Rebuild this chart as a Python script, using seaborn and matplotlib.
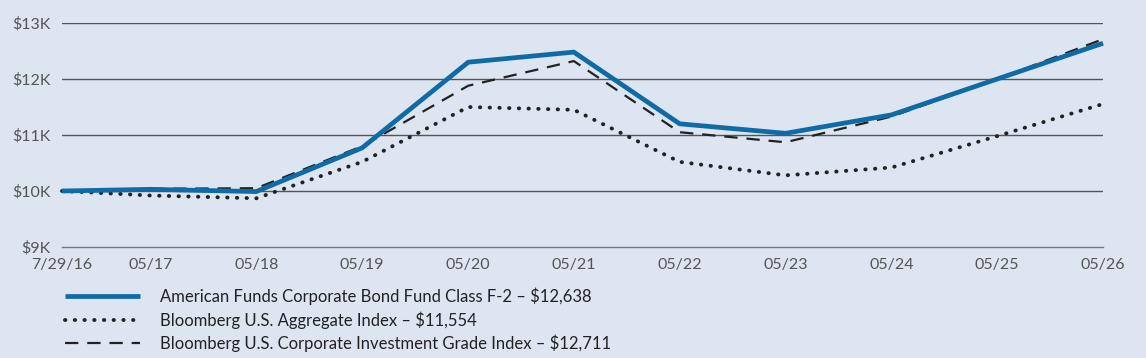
import numpy as np
import pandas as pd
import matplotlib.pyplot as plt
import seaborn as sns
from matplotlib.lines import Line2D

dates = ["2016-07-29", "2017-05-31", "2018-05-31", "2019-05-31", "2020-05-31", "2021-05-31",
         "2022-05-31", "2023-05-31", "2024-05-31", "2025-05-31", "2026-05-31"]
tick_labels = ["7/29/16", "05/17", "05/18", "05/19", "05/20", "05/21",
               "05/22", "05/23", "05/24", "05/25", "05/26"]

fund = [10000, 10030, 9990, 10770, 12300, 12480, 11200, 11030, 11360, 12000, 12638]
aggregate = [10000, 9920, 9870, 10520, 11500, 11450, 10520, 10280, 10420, 10980, 11554]
corporate = [10000, 10040, 10050, 10800, 11880, 12320, 11050, 10870, 11330, 12000, 12711]

names = ["American Funds Corporate Bond Fund Class F-2 \u2013 $12,638",
         "Bloomberg U.S. Aggregate Index \u2013 $11,554",
         "Bloomberg U.S. Corporate Investment Grade Index \u2013 $12,711"]

# convert dates to fractional years so the first short period is spaced right
dt = pd.to_datetime(dates)
xyear = dt.year + (dt.dayofyear - 1) / 365.25

df = pd.DataFrame({
    "x": np.tile(xyear, 3),
    "value": fund + aggregate + corporate,
    "series": np.repeat(names, len(dates)),
})

bg = "#dde5f0"
sns.set_style("white")
plt.rcParams["font.family"] = ["Lato", "DejaVu Sans"]

fig = plt.figure(figsize=(11.46, 3.58), dpi=100, facecolor=bg)
ax = fig.add_axes([0.0541, 0.31, 0.9084, 0.6258])
ax.set_facecolor(bg)

# draw order: dashed, dotted, then fund on top
styles = {
    names[2]: dict(color="#222222", lw=1.6, dashes=(6, 4)),
    names[1]: dict(color="#222222", lw=2.8, dashes=(0.1, 2.4)),
    names[0]: dict(color="#0f6aa6", lw=3.4, dashes=()),
}
for name in [names[2], names[1], names[0]]:
    sub = df[df["series"] == name]
    st = styles[name]
    sns.lineplot(data=sub, x="x", y="value", ax=ax, color=st["color"], lw=st["lw"],
                 legend=False, clip_on=False, solid_capstyle="butt")
    line = ax.lines[-1]
    if st["dashes"]:
        line.set_dashes(st["dashes"])
        if name == names[1]:
            line.set_dash_capstyle("round")
        else:
            line.set_dash_capstyle("butt")

ax.set_xlim(xyear[0], xyear[-1])
ax.set_ylim(9000, 13000)
ax.set_yticks([9000, 10000, 11000, 12000, 13000])
ax.set_yticklabels(["$9K", "$10K", "$11K", "$12K", "$13K"])
ax.set_xticks(xyear)
ax.set_xticklabels(tick_labels)
for y in [10000, 11000, 12000, 13000]:
    ax.axhline(y, color="#555555", lw=1, zorder=0)
ax.set_xlabel("")
ax.set_ylabel("")
for s in ["top", "right", "left"]:
    ax.spines[s].set_visible(False)
ax.spines["bottom"].set_color("#777777")
ax.spines["bottom"].set_linewidth(1)
ax.tick_params(axis="x", direction="out", length=6, width=1, color="#777777",
               labelsize=11.5, labelcolor="#555555", pad=2)
ax.tick_params(axis="y", length=0, labelsize=11.5, labelcolor="#555555", pad=8)

h0 = Line2D([], [], color="#0f6aa6", lw=3.4, solid_capstyle="butt")
h1 = Line2D([], [], color="#222222", lw=2.8, dashes=(0.1, 2.4), dash_capstyle="round")
h2 = Line2D([], [], color="#222222", lw=1.6, dashes=(6, 4))
fig.legend([h0, h1, h2], names, loc="upper left", bbox_to_anchor=(0.0505, 0.215),
           frameon=False, fontsize=12, handlelength=4.5, handletextpad=1.2,
           labelspacing=0.36, borderaxespad=0, labelcolor="#222222")

fig.savefig("out.png", dpi=100, facecolor=bg)
